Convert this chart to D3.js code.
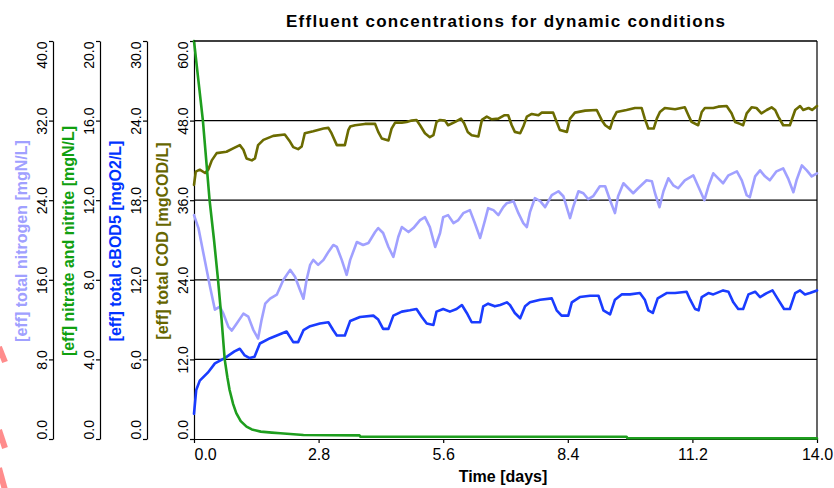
<!DOCTYPE html>
<html>
<head>
<meta charset="utf-8">
<script src="https://cdn.jsdelivr.net/npm/d3@7"></script>
<style>
  html, body { margin: 0; padding: 0; background: #fff; }
  svg { display: block; }
</style>
</head>
<body>
<script>
// ---------------- DATA ----------------
const chartTitle = "Effluent concentrations for dynamic conditions";
const xLabel = "Time [days]";
const timeTicks = [0, 2.8, 5.6, 8.4, 11.2, 14.0];
const tnTicks  = [0, 8, 16, 24, 32, 40];
const noxTicks = [0, 4, 8, 12, 16, 20];
const bodTicks = [0, 6, 12, 18, 24, 30];
const codTicks = [0, 12, 24, 36, 48, 60];

const tnLabel  = "[eff] total nitrogen [mgN/L]";
const noxLabel = "[eff] nitrate and nitrite [mgN/L]";
const bodLabel = "[eff] total cBOD5 [mgO2/L]";
const codLabel = "[eff] total COD [mgCOD/L]";

// [time (d), value]
const tnData = [[0,22.5],[0.1,21.2],[0.21,18.7],[0.36,15.3],[0.47,13.0],[0.58,13.3],[0.66,12.6],[0.77,11.3],[0.85,10.9],[0.96,11.6],[1.11,12.6],[1.22,12.3],[1.33,11.0],[1.44,10.1],[1.52,12.0],[1.60,13.6],[1.71,14.1],[1.86,14.5],[2.01,16.0],[2.16,17.0],[2.27,16.3],[2.38,15.0],[2.46,14.1],[2.53,16.0],[2.61,17.5],[2.68,18.0],[2.79,17.5],[2.91,18.0],[3.02,18.8],[3.13,19.5],[3.21,19.3],[3.32,18.0],[3.43,16.5],[3.51,18.0],[3.66,19.8],[3.80,19.5],[3.92,19.7],[4.07,20.8],[4.14,21.2],[4.25,20.7],[4.37,19.3],[4.48,18.3],[4.59,20.3],[4.67,21.3],[4.82,20.8],[4.93,21.2],[5.08,22.0],[5.19,22.3],[5.30,21.3],[5.42,19.3],[5.53,20.7],[5.60,22.3],[5.71,22.5],[5.83,21.7],[5.94,22.0],[6.05,22.7],[6.20,23.0],[6.31,21.7],[6.43,20.2],[6.54,22.0],[6.61,23.2],[6.73,23.0],[6.84,22.5],[6.95,23.3],[7.03,23.7],[7.18,23.9],[7.29,22.7],[7.40,21.7],[7.48,21.3],[7.55,22.8],[7.66,24.2],[7.78,23.9],[7.89,23.3],[8.04,24.5],[8.19,24.9],[8.30,24.4],[8.45,22.2],[8.52,23.3],[8.64,24.9],[8.75,24.7],[8.86,24.1],[8.97,24.4],[9.12,25.4],[9.24,25.4],[9.35,24.0],[9.46,22.7],[9.53,24.4],[9.65,25.7],[9.76,25.2],[9.87,24.7],[9.98,25.2],[10.17,26.0],[10.29,25.9],[10.36,24.7],[10.46,23.3],[10.55,24.9],[10.66,26.2],[10.77,25.5],[10.88,25.2],[11.03,26.0],[11.22,26.5],[11.33,25.4],[11.47,24.0],[11.56,25.4],[11.67,26.7],[11.78,26.2],[11.89,25.7],[12.01,26.5],[12.20,26.9],[12.31,26.0],[12.42,24.5],[12.49,24.3],[12.61,26.4],[12.72,27.0],[12.83,26.4],[12.94,26.0],[13.09,26.9],[13.24,27.2],[13.35,26.2],[13.47,24.8],[13.54,26.0],[13.66,27.5],[13.77,27.0],[13.88,26.4],[14.0,26.7]];

const noxData = [[0,20],[0.1,18],[0.2,16],[0.35,12],[0.45,10],[0.54,8],[0.62,6],[0.69,4],[0.75,3.1],[0.8,2.46],[0.88,1.75],[0.95,1.3],[1.05,0.9],[1.18,0.62],[1.3,0.48],[1.5,0.37],[1.75,0.32],[1.94,0.29],[2.46,0.2],[3.72,0.18],[3.74,0.12],[9.72,0.11],[9.74,0.04],[14,0.03]];

const bodData = [[0,1.9],[0.05,3.7],[0.13,4.4],[0.31,5.0],[0.47,5.7],[0.69,6.1],[0.91,6.6],[1.03,6.8],[1.14,6.3],[1.25,6.1],[1.36,6.2],[1.48,7.2],[1.71,7.6],[1.93,7.9],[2.08,8.1],[2.23,7.3],[2.34,7.3],[2.46,8.2],[2.61,8.5],[2.83,8.7],[3.02,8.8],[3.13,8.2],[3.21,7.8],[3.39,7.8],[3.51,8.9],[3.73,9.2],[4.03,9.3],[4.14,9.0],[4.25,8.3],[4.37,8.3],[4.48,9.3],[4.67,9.6],[4.85,9.7],[5.00,9.8],[5.12,9.2],[5.23,8.7],[5.38,8.6],[5.45,9.6],[5.60,9.8],[5.75,9.6],[5.90,9.8],[6.02,10.1],[6.13,9.5],[6.24,8.8],[6.43,8.8],[6.50,10.0],[6.61,10.2],[6.76,10.0],[6.88,10.1],[7.03,10.3],[7.10,10.1],[7.21,9.5],[7.33,9.1],[7.44,10.0],[7.55,10.3],[7.78,10.5],[8.04,10.6],[8.15,9.7],[8.26,9.3],[8.41,9.3],[8.49,10.3],[8.67,10.7],[8.90,10.8],[9.09,10.8],[9.20,9.7],[9.35,9.4],[9.46,10.5],[9.61,10.9],[9.80,10.9],[10.02,11.0],[10.13,10.5],[10.21,9.7],[10.31,9.5],[10.42,10.6],[10.62,11.0],[10.81,11.0],[11.07,11.1],[11.15,10.5],[11.26,9.8],[11.34,9.7],[11.41,10.7],[11.56,11.0],[11.67,10.9],[11.89,11.2],[12.01,11.1],[12.12,10.3],[12.23,9.8],[12.34,9.8],[12.46,10.9],[12.61,11.1],[12.72,10.7],[12.87,11.0],[13.00,11.2],[13.11,10.6],[13.26,9.8],[13.39,9.8],[13.51,11.0],[13.62,11.2],[13.73,10.9],[13.84,11.0],[14.0,11.2]];

const codData = [[0,38.3],[0.04,40.3],[0.13,40.6],[0.25,40.1],[0.32,40.6],[0.40,42],[0.51,43.1],[0.73,43.3],[0.88,43.8],[1.03,44.3],[1.11,43.6],[1.18,42.3],[1.30,42],[1.37,42.3],[1.44,44.3],[1.56,45.1],[1.78,45.7],[2.04,45.9],[2.16,44.8],[2.23,44],[2.34,43.7],[2.42,44.1],[2.49,46.1],[2.68,46.4],[2.91,46.8],[3.02,46.9],[3.09,46.1],[3.21,44.3],[3.39,44.3],[3.47,46.6],[3.51,47.1],[3.62,47.3],[3.84,47.5],[4.07,47.5],[4.14,46.3],[4.22,45.3],[4.37,45],[4.44,46.8],[4.52,47.7],[4.67,47.7],[4.78,47.8],[4.89,48],[5.0,48.1],[5.08,47.3],[5.19,46.1],[5.30,45.5],[5.38,45.8],[5.45,47.8],[5.53,48.1],[5.64,48],[5.71,47.3],[5.87,47.8],[6.0,48.3],[6.07,47.6],[6.15,46.3],[6.24,45.8],[6.39,45.6],[6.47,48.1],[6.58,48.6],[6.69,48.2],[6.84,48.3],[6.97,48.8],[7.06,48.8],[7.14,47.3],[7.21,46.3],[7.33,46.1],[7.40,47.1],[7.48,48.6],[7.59,49],[7.74,48.8],[7.81,49.2],[8.07,49.2],[8.15,47.8],[8.22,46.6],[8.38,46.3],[8.45,48.3],[8.56,49.2],[8.79,49.5],[9.05,49.6],[9.16,48.1],[9.24,47.3],[9.35,46.8],[9.42,48.3],[9.50,49.3],[9.72,49.6],[9.91,49.9],[10.06,49.9],[10.13,48.3],[10.21,46.8],[10.33,46.8],[10.40,48.3],[10.47,49.3],[10.58,49.9],[10.81,49.7],[11.03,50],[11.11,48.8],[11.18,47.8],[11.33,47.3],[11.41,49.3],[11.48,49.9],[11.67,49.9],[11.78,50.1],[11.97,50.2],[12.08,49.1],[12.16,47.8],[12.27,47.5],[12.34,47.3],[12.42,49.1],[12.53,50],[12.64,49.9],[12.75,49.1],[12.87,49.6],[12.98,50],[13.06,49.6],[13.13,48.6],[13.24,47.3],[13.39,47.3],[13.51,49.6],[13.62,50.2],[13.69,49.6],[13.81,49.9],[13.89,49.6],[14.0,50.2]];

// ---------------- STYLE ----------------
const FONT = "'Liberation Sans', Arial, Helvetica, sans-serif";
const colTN = "#a0a0ff", colNOx = "#1e9e1e", colBOD = "#1a3cff", colCOD = "#6b6b00";
const labTN = "#a0a0ff", labNOx = "#10a010", labBOD = "#0033ff", labCOD = "#666600";

const W = 834, H = 488;
const pLeft = 194, pRight = 817, pTop = 41, pBottom = 439;

const svg = d3.select("body").append("svg").attr("width", W).attr("height", H)
  .style("font-family", FONT);

const x = d3.scaleLinear().domain([0, 14]).range([pLeft, pRight]);
const yTN  = d3.scaleLinear().domain([0, 40]).range([pBottom, pTop]);
const yNOx = d3.scaleLinear().domain([0, 20]).range([pBottom, pTop]);
const yBOD = d3.scaleLinear().domain([0, 30]).range([pBottom, pTop]);
const yCOD = d3.scaleLinear().domain([0, 60]).range([pBottom, pTop]);

// pink fragments at the left edge
[[347, 362], [430, 448], [468, 490]].forEach(([a, b]) => {
  svg.append("line").attr("x1", -1).attr("y1", a).attr("x2", 5).attr("y2", b)
    .attr("stroke", "#ff8c8c").attr("stroke-width", 6);
});

// grid lines + frame
svg.append("g").selectAll("line").data(codTicks.filter(d => d > 0)).join("line")
  .attr("x1", x(0)).attr("x2", x(14))
  .attr("y1", d => yCOD(d)).attr("y2", d => yCOD(d))
  .attr("stroke", "#000").attr("stroke-width", 1.2);
svg.append("line").attr("x1", x(14)).attr("x2", x(14)).attr("y1", pTop).attr("y2", pBottom)
  .attr("stroke", "#000").attr("stroke-width", 1.2);

// left axes
function leftAxis(scale, ticks, xpos) {
  const g = svg.append("g").attr("transform", `translate(${xpos},0)`)
    .call(d3.axisLeft(scale).tickValues(ticks).tickSize(4).tickSizeOuter(0)
      .tickFormat(d => d.toFixed(1)));
  g.attr("font-size", 14).attr("font-family", FONT);
  g.select(".domain").attr("stroke", "#000").attr("stroke-width", 1.2);
  g.selectAll(".tick line").attr("stroke", "#000").attr("stroke-width", 1.2);
  g.selectAll(".tick text")
    .attr("dy", null)
    .attr("transform", "rotate(-90)")
    .attr("x", 0).attr("y", -6)
    .attr("fill", "#000")
    .attr("text-anchor", (d, i) => i === 0 ? "start" : (i === ticks.length - 1 ? "end" : "middle"));
  return g;
}
leftAxis(yTN, tnTicks, 53);
leftAxis(yNOx, noxTicks, 100);
leftAxis(yBOD, bodTicks, 147);
leftAxis(yCOD, codTicks, pLeft);

// axis titles
const midY = (pTop + pBottom) / 2 + 1;
[[tnLabel, labTN, 27], [noxLabel, labNOx, 74], [bodLabel, labBOD, 121], [codLabel, labCOD, 168]]
  .forEach(([t, c, bx]) => {
    svg.append("text").attr("transform", `translate(${bx},${midY}) rotate(-90)`)
      .attr("text-anchor", "middle").attr("font-size", 16).attr("font-weight", "bold")
      .attr("fill", c).text(t);
  });

// bottom axis
const gx = svg.append("g").attr("transform", `translate(0,${pBottom})`)
  .call(d3.axisBottom(x).tickValues(timeTicks).tickSize(4).tickSizeOuter(0)
    .tickFormat(d => d.toFixed(1)));
gx.attr("font-size", 16).attr("font-family", FONT);
gx.select(".domain").attr("stroke", "#000").attr("stroke-width", 1.2);
gx.selectAll(".tick line").attr("stroke", "#000").attr("stroke-width", 1.2);
gx.selectAll(".tick text").attr("dy", null).attr("y", 21).attr("fill", "#000")
  .attr("text-anchor", (d, i) => i === 0 ? "start" : "middle");

// x label
svg.append("text").attr("x", 503).attr("y", 482).attr("text-anchor", "middle")
  .attr("font-size", 16).attr("font-weight", "bold").attr("fill", "#000").text(xLabel);

// title
svg.append("text").attr("x", 505.5).attr("y", 27).attr("text-anchor", "middle")
  .attr("font-size", 17).attr("font-weight", "bold").attr("fill", "#000")
  .attr("textLength", 439).attr("lengthAdjust", "spacing").text(chartTitle);

// series
function drawLine(data, yScale, color) {
  svg.append("path").datum(data)
    .attr("fill", "none").attr("stroke", color).attr("stroke-width", 2.6)
    .attr("stroke-linejoin", "round").attr("stroke-linecap", "round")
    .attr("d", d3.line().x(d => x(d[0])).y(d => yScale(d[1])));
}
drawLine(tnData, yTN, colTN);
drawLine(bodData, yBOD, colBOD);
drawLine(codData, yCOD, colCOD);
drawLine(noxData, yNOx, colNOx);

// top frame line
svg.append("line").attr("x1", x(0)).attr("x2", x(14)).attr("y1", pTop).attr("y2", pTop)
  .attr("stroke", "#000").attr("stroke-width", 1.2);
</script>
</body>
</html>
